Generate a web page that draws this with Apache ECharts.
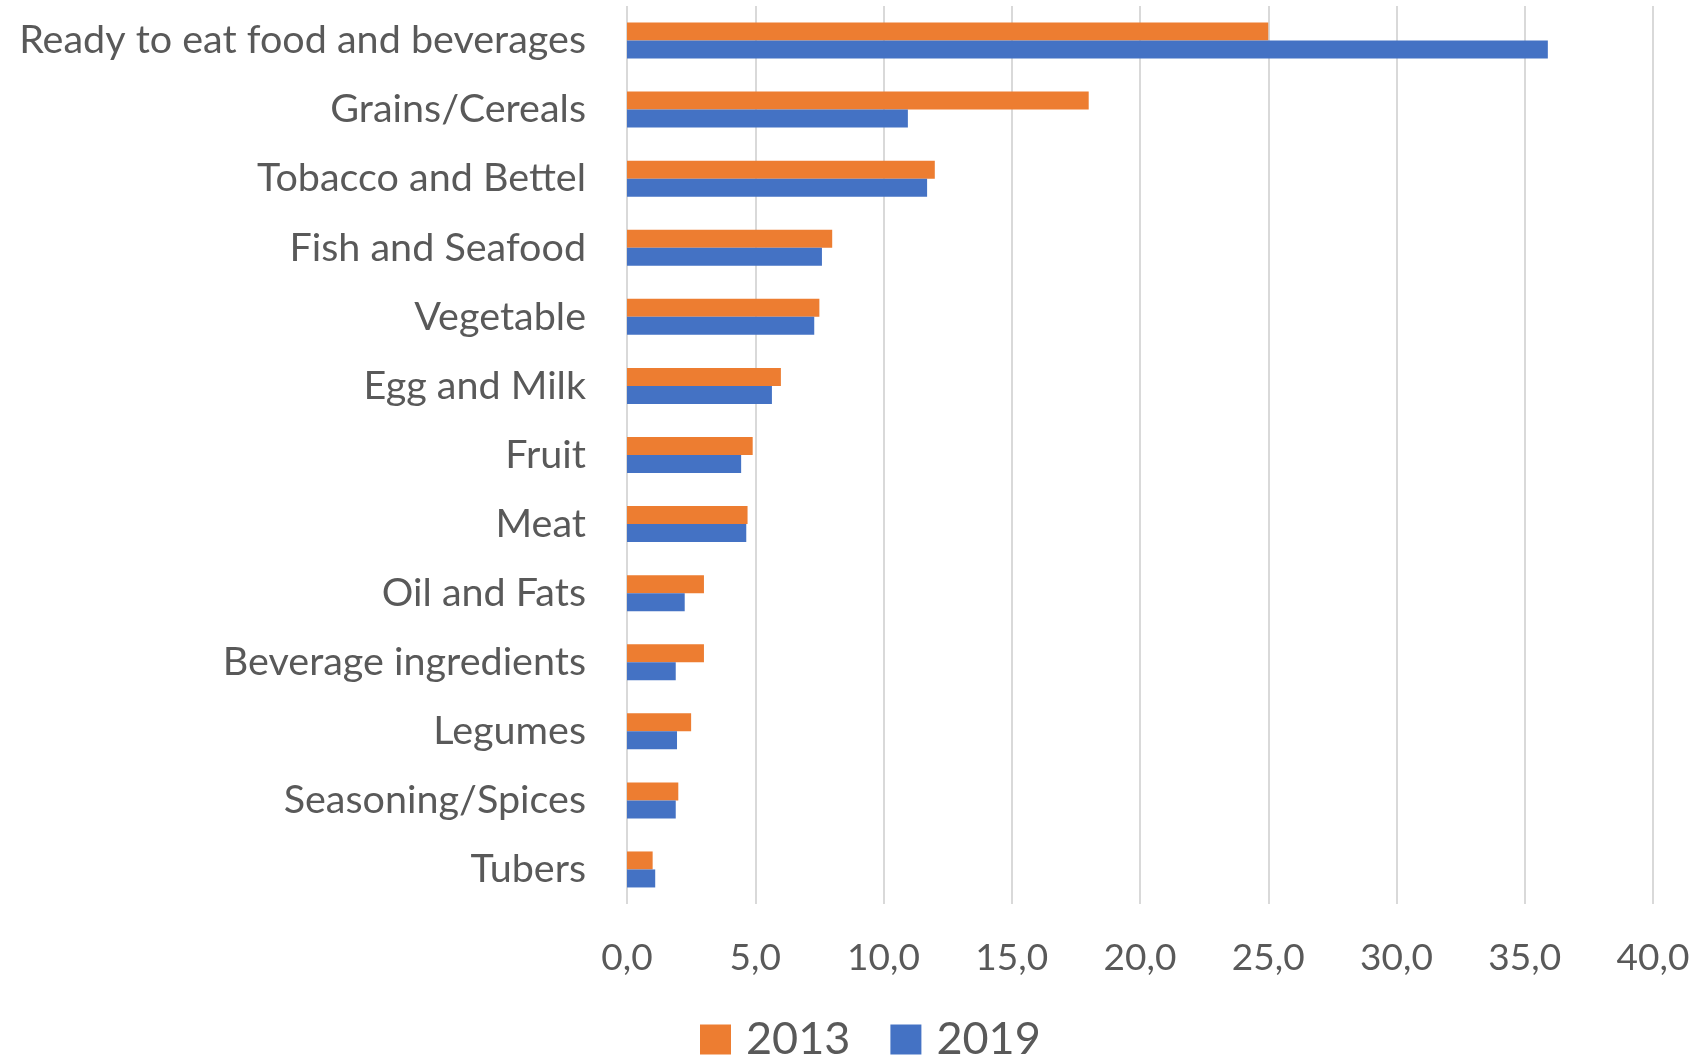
<!DOCTYPE html>
<html lang="en">
<head>
    <meta charset="UTF-8">
    <script src="https://cdn.jsdelivr.net/npm/echarts@6/dist/echarts.min.js"></script>
    <title>Food groups 2013 / 2019</title>
    <style type="text/css">
        html, body { margin: 0; padding: 0; background: #fff; }
        #chart { width: 1696px; height: 1056px; }
    </style>
</head>
<body>
<div id="chart"></div>
<script type="text/javascript">
    const categories = ['Ready to eat food and beverages', 'Grains/Cereals', 'Tobacco and Bettel', 'Fish and Seafood',
        'Vegetable', 'Egg and Milk', 'Fruit', 'Meat', 'Oil and Fats', 'Beverage ingredients', 'Legumes',
        'Seasoning/Spices', 'Tubers'];
    const values2013 = [25.0, 18.0, 12.0, 8.0, 7.5, 6.0, 4.9, 4.7, 3.0, 3.0, 2.5, 2.0, 1.0];
    const values2019 = [35.9, 10.95, 11.7, 7.6, 7.3, 5.65, 4.45, 4.65, 2.25, 1.9, 1.95, 1.9, 1.1];
    const seriesNames = ['2013', '2019'];

    const textGray = '#595959';
    const myChart = echarts.init(document.getElementById('chart'));

    const option = {
        animation: false,
        textStyle: { fontFamily: 'Lato' },
        legend: {
            data: seriesNames,
            left: 695,
            top: 1012,
            itemWidth: 31,
            itemHeight: 30,
            itemGap: 40,
            icon: 'rect',
            textStyle: { fontSize: 45, lineHeight: 40, color: textGray, padding: [0, 0, 0, 10] }
        },
        grid: { left: 627, right: 43, top: 6, bottom: 152 },
        xAxis: {
            type: 'value',
            min: 0,
            max: 40,
            interval: 5,
            axisLine: { show: false },
            axisTick: { show: false },
            splitLine: { lineStyle: { color: '#d9d9d9', width: 2 } },
            axisLabel: {
                fontSize: 37,
                color: textGray,
                margin: 36,
                formatter: function (v) { return v.toFixed(1).replace('.', ','); }
            }
        },
        yAxis: {
            type: 'category',
            data: categories,
            inverse: true,
            axisLine: { show: false },
            axisTick: { show: false },
            axisLabel: { fontSize: 39.5, color: textGray, margin: 41 }
        },
        series: [
            {
                name: seriesNames[0],
                type: 'bar',
                data: values2013,
                barWidth: 18,
                barGap: '0%',
                itemStyle: { color: '#ED7D31' }
            },
            {
                name: seriesNames[1],
                type: 'bar',
                data: values2019,
                barWidth: 18,
                barGap: '0%',
                itemStyle: { color: '#4472C4' }
            }
        ]
    };

    myChart.setOption(option);
</script>
</body>
</html>
